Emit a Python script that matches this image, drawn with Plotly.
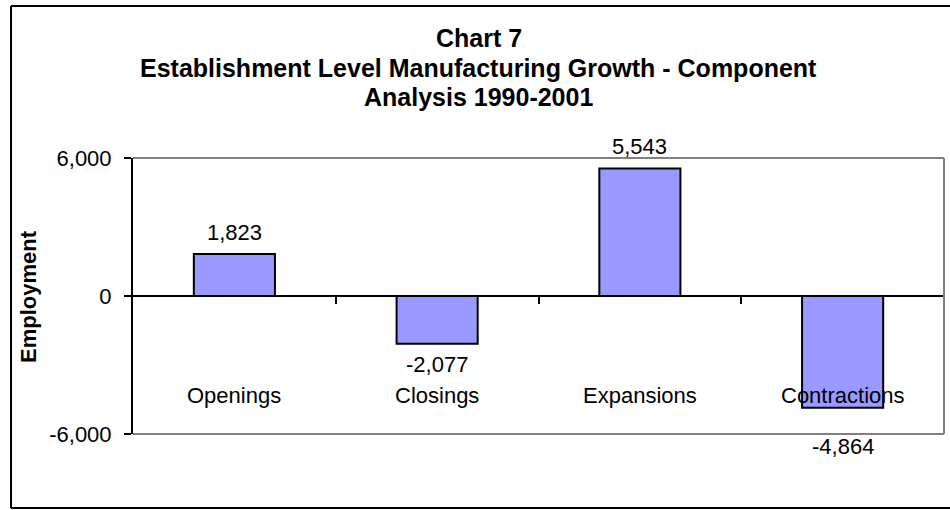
import plotly.graph_objects as go

categories = ["Openings", "Closings", "Expansions", "Contractions"]
values = [1823, -2077, 5543, -4864]
y_ticks = [-6000, 0, 6000]
y_tick_labels = ["-6,000", "0", "6,000"]
title_lines = ["Chart 7",
               "Establishment Level Manufacturing Growth - Component",
               "Analysis 1990-2001"]

FONT = "Liberation Sans, Arial, sans-serif"
x_pos = list(range(len(categories)))

fig = go.Figure()
fig.add_trace(go.Bar(
    x=x_pos, y=values, width=0.4,
    marker=dict(color="#9999FF", line=dict(color="black", width=2)),
    hoverinfo="skip",
))

annotations = []
# value labels
for i, v in enumerate(values):
    if v >= 0:
        shift = 22
    else:
        shift = -39 if categories[i] == "Contractions" else -21
    annotations.append(dict(x=i, y=v, xref="x", yref="y", text=f"{v:,}",
                            showarrow=False, yshift=shift, yanchor="middle",
                            font=dict(family=FONT, size=22, color="black")))
# category labels
for i, c in enumerate(categories):
    annotations.append(dict(x=i, y=0.141, xref="x", yref="paper", text=c,
                            showarrow=False, yanchor="middle",
                            font=dict(family=FONT, size=22, color="black")))
# title lines
for line, yp in zip(title_lines, [1.4348, 1.3261, 1.2210]):
    annotations.append(dict(x=0.4266, y=yp, xref="paper", yref="paper",
                            text=f"<b>{line}</b>",
                            showarrow=False, yanchor="middle", xanchor="center",
                            font=dict(family=FONT, size=25, color="black")))
# y axis title
annotations.append(dict(x=-0.1295, y=0.5, xref="paper", yref="paper",
                        text="<b>Employment</b>", textangle=-90,
                        showarrow=False, xanchor="center", yanchor="middle",
                        font=dict(family=FONT, size=22, color="black")))

shapes = [
    # plot area gray border (top, right, bottom)
    dict(type="line", xref="paper", yref="paper", x0=0, x1=1, y0=1, y1=1,
         line=dict(color="#808080", width=2)),
    dict(type="line", xref="paper", yref="paper", x0=1, x1=1, y0=0, y1=1,
         line=dict(color="#808080", width=2)),
    dict(type="line", xref="paper", yref="paper", x0=0, x1=1, y0=0, y1=0,
         line=dict(color="#808080", width=2)),
    # outer chart frame (left, top, bottom; right edge lies beyond the image)
    dict(type="line", xref="paper", yref="paper", x0=-0.1504, x1=-0.1504,
         y0=-0.268, y1=1.5507, line=dict(color="black", width=2)),
    dict(type="line", xref="paper", yref="paper", x0=-0.1504, x1=1.2,
         y0=1.5507, y1=1.5507, line=dict(color="black", width=2)),
    dict(type="line", xref="paper", yref="paper", x0=-0.1504, x1=1.2,
         y0=-0.268, y1=-0.268, line=dict(color="black", width=2)),
]

fig.update_layout(
    width=950, height=510,
    margin=dict(l=133, r=6, t=158, b=76),
    paper_bgcolor="white", plot_bgcolor="white",
    showlegend=False,
    annotations=annotations, shapes=shapes,
    xaxis=dict(range=[-0.5, 3.5], anchor="free", position=0.5,
               showline=True, linecolor="black", linewidth=2,
               tickmode="array", tickvals=[0.5, 1.5, 2.5, 3.5],
               ticks="outside", ticklen=7, tickwidth=2, tickcolor="black",
               showticklabels=False, showgrid=False, zeroline=False),
    yaxis=dict(range=[-6000, 6000], tickmode="array", tickvals=y_ticks,
               ticktext=y_tick_labels, showline=True, linecolor="black",
               linewidth=2, ticks="outside", ticklen=7, tickwidth=2,
               tickcolor="black", showgrid=False, zeroline=False,
               ticklabelstandoff=8,
               tickfont=dict(family=FONT, size=22, color="black")),
)

fig.write_html(
    "out.html", config={"displayModeBar": False},
    post_script=("document.body.style.margin='0px';"
                 "document.body.style.overflow='hidden';"
                 "document.documentElement.style.overflow='hidden';"))
